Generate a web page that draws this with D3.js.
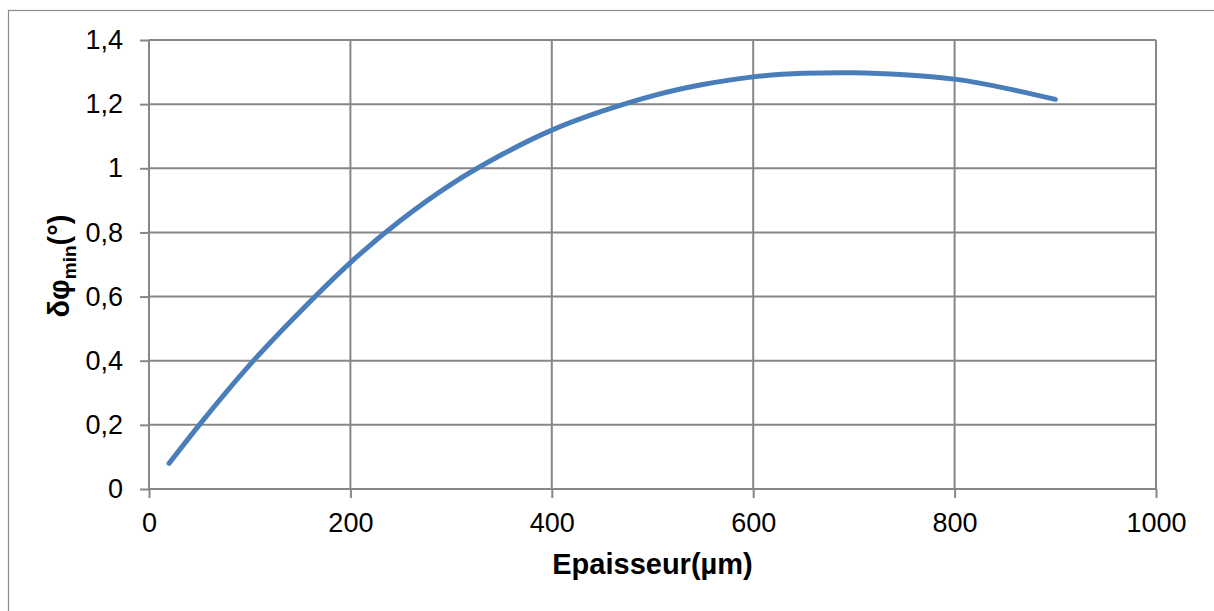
<!DOCTYPE html>
<html>
<head>
<meta charset="utf-8">
<script src="https://cdn.jsdelivr.net/npm/d3@7"></script>
<style>
  html, body { margin: 0; padding: 0; background: #fff; }
  svg { display: block; }
  text { font-family: "Liberation Sans", Arial, sans-serif; fill: #000; }
</style>
</head>
<body>
<svg id="chart" width="1214" height="611"></svg>
<script>
// Data
const thickness = [20, 50, 100, 150, 200, 250, 300, 350, 400, 450, 500, 550, 600, 650, 700, 750, 800, 850, 900];
const deltaPhiMin = [0.08, 0.20, 0.387, 0.553, 0.706, 0.838, 0.950, 1.042, 1.119, 1.178, 1.226, 1.261, 1.285, 1.296, 1.298, 1.292, 1.278, 1.25, 1.215];
const xTicks = [0, 200, 400, 600, 800, 1000];
const yTicks = [0, 0.2, 0.4, 0.6, 0.8, 1, 1.2, 1.4];
const xTitle = "Epaisseur(µm)";
const yTitleMain = "δφ";
const yTitleSub = "min";
const yTitleEnd = "(°)";

const svg = d3.select("#chart");
const plot = { left: 149, right: 1156, top: 40, bottom: 489 };

const x = d3.scaleLinear().domain([0, 1000]).range([plot.left, plot.right]);
const y = d3.scaleLinear().domain([0, 1.4]).range([plot.bottom, plot.top]);

const gridColor = "#878787";
const fmt = d => String(d).replace(".", ",");

// outer chart border
svg.append("rect")
  .attr("x", 8.5).attr("y", 10.5)
  .attr("width", 1214).attr("height", 620)
  .attr("fill", "none").attr("stroke", "#8c8c8c").attr("stroke-width", 1.2);

// horizontal gridlines + y ticks
const yAxis = d3.axisLeft(y).tickValues(yTicks).tickSize(9).tickPadding(17).tickFormat(fmt);
const gy = svg.append("g").attr("transform", `translate(${plot.left},0)`).call(yAxis);
gy.select(".domain").remove();
gy.selectAll(".tick line").attr("stroke", gridColor).attr("stroke-width", 2);
gy.selectAll(".tick text").style("font-size", "27px").attr("fill", "#000");

svg.append("g").selectAll("line").data(yTicks).join("line")
  .attr("x1", plot.left).attr("x2", plot.right)
  .attr("y1", d => y(d)).attr("y2", d => y(d))
  .attr("stroke", gridColor).attr("stroke-width", 2);

// vertical gridlines + x ticks
const xAxis = d3.axisBottom(x).tickValues(xTicks).tickSize(9).tickPadding(15).tickFormat(fmt);
const gx = svg.append("g").attr("transform", `translate(0,${plot.bottom})`).call(xAxis);
gx.select(".domain").remove();
gx.selectAll(".tick line").attr("stroke", gridColor).attr("stroke-width", 2);
gx.selectAll(".tick text").style("font-size", "27px").attr("fill", "#000");

svg.append("g").selectAll("line").data(xTicks).join("line")
  .attr("x1", d => x(d)).attr("x2", d => x(d))
  .attr("y1", plot.top).attr("y2", plot.bottom)
  .attr("stroke", gridColor).attr("stroke-width", 2);

// data line
const line = d3.line()
  .x((d, i) => x(thickness[i]))
  .y(d => y(d))
  .curve(d3.curveNatural);

svg.append("path")
  .datum(deltaPhiMin)
  .attr("d", line)
  .attr("fill", "none")
  .attr("stroke", "#4a7ebb")
  .attr("stroke-width", 5)
  .attr("stroke-linecap", "round")
  .attr("stroke-linejoin", "round");

// x axis title
svg.append("text")
  .attr("x", (plot.left + plot.right) / 2)
  .attr("y", 574)
  .attr("text-anchor", "middle")
  .style("font-size", "29px")
  .style("font-weight", "bold")
  .text(xTitle);

// y axis title (rotated, with subscript)
const yt = svg.append("text")
  .attr("transform", `translate(69,266) rotate(-90)`)
  .attr("text-anchor", "middle")
  .style("font-size", "29px")
  .style("font-weight", "bold");
yt.append("tspan").text(yTitleMain);
yt.append("tspan").attr("dy", 7).style("font-size", "19px").text(yTitleSub);
yt.append("tspan").attr("dy", -7).text(yTitleEnd);
</script>
</body>
</html>
